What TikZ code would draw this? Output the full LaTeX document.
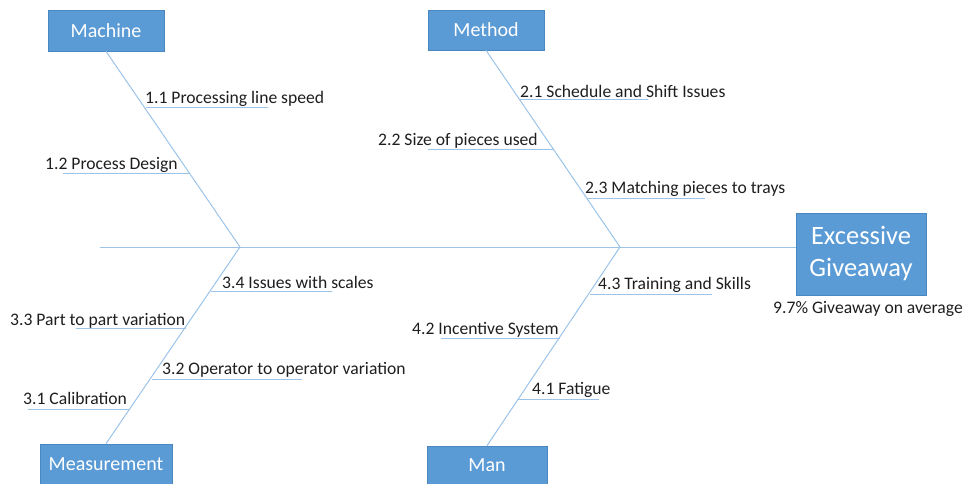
\documentclass[tikz,border=0pt]{standalone}
\usepackage{fontspec}
\setmainfont{Carlito}
\definecolor{boxblue}{HTML}{5B9BD5}
\definecolor{boxedge}{HTML}{4A86C0}
\definecolor{linecol}{HTML}{9CC3E8}
\definecolor{txt}{HTML}{1E1E1E}
\begin{document}
\begin{tikzpicture}[x=1pt,y=-1pt,
  catbox/.style={fill=boxblue,draw=boxedge,line width=0.6pt,text=white,font=\fontsize{20}{22}\selectfont,inner sep=0pt},
  bone/.style={draw=linecol,line width=1pt},
  lbl/.style={anchor=base west,inner sep=0pt,text=txt,font=\fontsize{17.6}{19}\selectfont}]
\useasboundingbox (0,0) rectangle (969,484);
% category boxes
\node[catbox,minimum width=116pt,minimum height=41pt] (machine) at (106,30.5) {Machine};
\node[catbox,minimum width=116pt,minimum height=40pt] (method) at (486,30) {Method};
\node[catbox,minimum width=132pt,minimum height=40pt] (meas) at (106,464) {Measurement};
\node[catbox,minimum width=120pt,minimum height=38pt] (man) at (487,465) {Man};
\node[catbox,minimum width=130pt,minimum height=82pt,font=\fontsize{26.5}{32}\selectfont,align=center] (effect) at (861,254) {Excessive\\Giveaway};
\node[anchor=base,inner sep=0pt,text=txt,font=\fontsize{17.6}{19}\selectfont] (avg) at (868,313) {9.7\% Giveaway on average};
% spine
\coordinate (tail) at (100,247);
\coordinate (j1) at (240,247);
\coordinate (j2) at (620,247);
\draw[bone] (tail) -- (effect.west |- tail);
% main bones
\draw[bone] (machine.south) -- (j1);
\draw[bone] (method.south) -- (j2);
\draw[bone] (meas.north) -- (j1);
\draw[bone] (man.north) -- (j2);
% Machine causes
\coordinate (m1a) at (146,108); \coordinate (m1b) at (268,108);
\coordinate (m2a) at (190,173); \coordinate (m2b) at (63,173);
\draw[bone] (m1a) -- (m1b);
\draw[bone] (m2a) -- (m2b);
\node[lbl] (t11) at (145,104) {1.1 Processing line speed};
\node[lbl] (t12) at (45,169) {1.2 Process Design};
% Method causes
\coordinate (d1a) at (519,100); \coordinate (d1b) at (648,100);
\coordinate (d2a) at (553,150); \coordinate (d2b) at (428,150);
\coordinate (d3a) at (587,198); \coordinate (d3b) at (705,198);
\draw[bone] (d1a) -- (d1b);
\draw[bone] (d2a) -- (d2b);
\draw[bone] (d3a) -- (d3b);
\node[lbl] (t21) at (520,98) {2.1 Schedule and Shift Issues};
\node[lbl] (t22) at (378,146) {2.2 Size of pieces used};
\node[lbl] (t23) at (585,193) {2.3 Matching pieces to trays};
% Measurement causes
\coordinate (s4a) at (211,291); \coordinate (s4b) at (332,291);
\coordinate (s3a) at (186,328); \coordinate (s3b) at (76,328);
\coordinate (s2a) at (152,379); \coordinate (s2b) at (302,379);
\coordinate (s1a) at (130,409); \coordinate (s1b) at (28,409);
\draw[bone] (s4a) -- (s4b);
\draw[bone] (s3a) -- (s3b);
\draw[bone] (s2a) -- (s2b);
\draw[bone] (s1a) -- (s1b);
\node[lbl] (t34) at (222,288) {3.4 Issues with scales};
\node[lbl] (t33) at (10,325) {3.3 Part to part variation};
\node[lbl] (t32) at (162,374) {3.2 Operator to operator variation};
\node[lbl] (t31) at (23,404) {3.1 Calibration};
% Man causes
\coordinate (n3a) at (590,294); \coordinate (n3b) at (712,294);
\coordinate (n2a) at (560,338); \coordinate (n2b) at (441,338);
\coordinate (n1a) at (518,399); \coordinate (n1b) at (599,399);
\draw[bone] (n3a) -- (n3b);
\draw[bone] (n2a) -- (n2b);
\draw[bone] (n1a) -- (n1b);
\node[lbl] (t43) at (598,289) {4.3 Training and Skills};
\node[lbl] (t42) at (412,334) {4.2 Incentive System};
\node[lbl] (t41) at (532,394) {4.1 Fatigue};
\end{tikzpicture}
\end{document}
